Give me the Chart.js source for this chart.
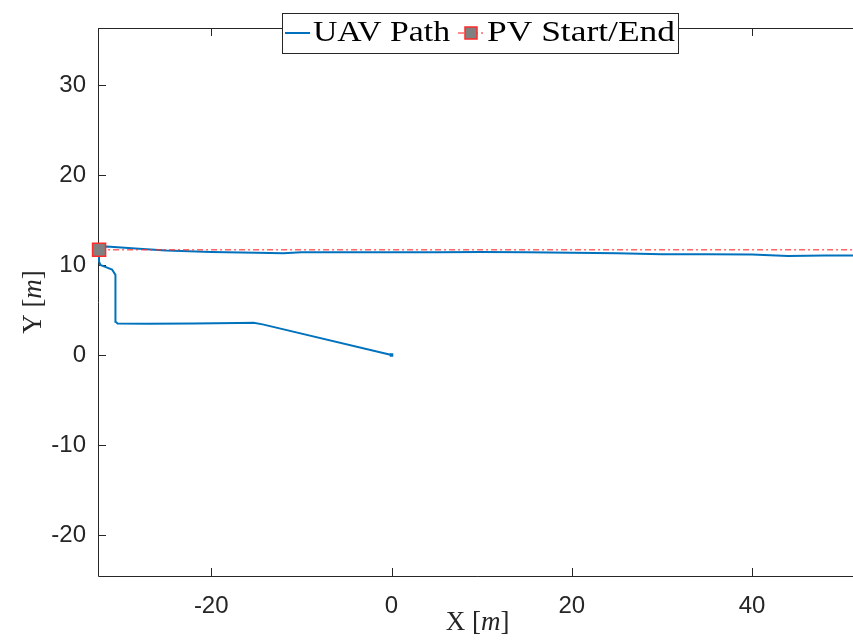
<!DOCTYPE html>
<html>
<head>
<meta charset="utf-8">
<script src="https://cdn.jsdelivr.net/npm/chart.js@4"></script>
<style>
  html, body { margin: 0; padding: 0; background: #fff; overflow: hidden; }
  #wrap { width: 853px; height: 643px; overflow: hidden; position: relative; }
  #pathChart { display: block; position: absolute; left: 0; top: 0; }
</style>
</head>
<body>
<div id="wrap"><canvas id="pathChart" width="868" height="643"></canvas></div>
<script>
// --- DATA ---
const pathX = [0, -14.3, -15.3, -17, -22, -27, -30.4, -30.6, -30.6, -30.65, -31.0, -31.9, -32.3, -32.45, -32.45,
               -31.6, -30, -28, -25, -20, -15, -12, -10, -5, 0, 5, 10, 15, 20, 25, 30, 35, 40, 44, 48, 52];
const pathY = [0, 3.4, 3.58, 3.55, 3.5, 3.48, 3.5, 3.7, 7.2, 8.9, 9.5, 9.85, 10.0, 10.4, 11.7,
               12.05, 11.95, 11.8, 11.6, 11.45, 11.35, 11.3, 11.4, 11.4, 11.4, 11.4, 11.45, 11.4, 11.35, 11.3,
               11.2, 11.2, 11.15, 11.0, 11.05, 11.05];
const pvX = [-32.44, 60];
const pvY = [11.7, 11.7];

const xTicks = [-20, 0, 20, 40];
const yTicks = [-20, -10, 0, 10, 20, 30];
const xLimits = [-32.56, 51.67];
const yLimits = [-24.56, 36.33];

const axisColor = '#262626';
const uavColor = '#0072BD';
const pvColor = 'rgba(255, 50, 50, 0.75)';

const toPoints = (xs, ys) => xs.map((x, i) => ({ x: x, y: ys[i] }));

// draws a string squeezed/stretched to a given width
function fitText(ctx, text, x, y, width) {
    const w = ctx.measureText(text).width;
    ctx.save();
    ctx.translate(x, y);
    ctx.scale(width / w, 1);
    ctx.fillText(text, 0, 0);
    ctx.restore();
}

// --- AXES BOX + INWARD TICKS ---
const axesPlugin = {
    id: 'axesBox',
    beforeDatasetsDraw(chart) {
        const { ctx, chartArea: a, scales } = chart;
        ctx.save();
        ctx.strokeStyle = axisColor;
        ctx.lineWidth = 1;
        ctx.beginPath();
        ctx.moveTo(a.left + 0.5, a.top + 0.5);
        ctx.lineTo(a.left + 0.5, a.bottom + 0.5);
        ctx.lineTo(a.right, a.bottom + 0.5);
        ctx.moveTo(a.left, a.top + 0.5);
        ctx.lineTo(a.right, a.top + 0.5);
        ctx.stroke();
        ctx.beginPath();
        xTicks.forEach(v => {
            const px = Math.round(scales.x.getPixelForValue(v)) + 0.5;
            ctx.moveTo(px, a.bottom); ctx.lineTo(px, a.bottom - 8);
            ctx.moveTo(px, a.top); ctx.lineTo(px, a.top + 8);
        });
        yTicks.forEach(v => {
            const py = Math.round(scales.y.getPixelForValue(v)) + 0.5;
            ctx.moveTo(a.left, py); ctx.lineTo(a.left + 8, py);
        });
        ctx.stroke();
        ctx.restore();
    },
    afterDraw(chart) {
        const { ctx, chartArea: a } = chart;
        ctx.save();
        // axis titles with italic unit
        const serif = '"Liberation Serif", "Times New Roman", serif';
        const drawTitle = (parts) => {
            let total = 0;
            parts.forEach(p => { ctx.font = p.font; p.w = ctx.measureText(p.t).width; total += p.w; });
            let x = -total / 2;
            parts.forEach(p => { ctx.font = p.font; ctx.fillText(p.t, x, 0); x += p.w; });
        };
        const titleParts = (letter) => [
            { t: letter + ' [', font: '27px ' + serif },
            { t: 'm', font: 'italic 27px ' + serif },
            { t: ']', font: '27px ' + serif }
        ];
        ctx.fillStyle = axisColor;
        ctx.textBaseline = 'alphabetic';
        ctx.save();
        ctx.translate((a.left + a.right) / 2, 630);
        drawTitle(titleParts('X'));
        ctx.restore();
        ctx.save();
        ctx.translate(41, (a.top + a.bottom) / 2);
        ctx.rotate(-Math.PI / 2);
        drawTitle(titleParts('Y'));
        ctx.restore();

        // legend box
        const bx = 282, by = 13, bw = 396, bh = 40;
        ctx.fillStyle = '#fff';
        ctx.fillRect(bx, by, bw, bh);
        ctx.strokeStyle = axisColor;
        ctx.lineWidth = 1;
        ctx.strokeRect(bx + 0.5, by + 0.5, bw, bh);
        const ly = 33;
        ctx.strokeStyle = uavColor;
        ctx.lineWidth = 2;
        ctx.beginPath(); ctx.moveTo(285, ly); ctx.lineTo(310, ly); ctx.stroke();
        ctx.strokeStyle = pvColor;
        ctx.lineWidth = 1.5;
        ctx.setLineDash([6, 3, 2, 3]);
        ctx.beginPath(); ctx.moveTo(458, ly); ctx.lineTo(484, ly); ctx.stroke();
        ctx.setLineDash([]);
        ctx.fillStyle = '#808080';
        ctx.fillRect(465, 27, 12, 12);
        ctx.strokeStyle = '#ff2a2a';
        ctx.lineWidth = 1.5;
        ctx.strokeRect(465, 27, 12, 12);
        ctx.fillStyle = '#000';
        ctx.font = '29px ' + serif;
        fitText(ctx, 'UAV Path', 313, 41, 137);
        fitText(ctx, 'PV Start/End', 487, 41, 188);
        ctx.restore();
    }
};

// --- CHART ---
const data = {
    datasets: [
        {
            label: 'UAV Path',
            data: toPoints(pathX, pathY),
            borderColor: uavColor,
            borderWidth: 2,
            pointRadius: pathX.map((v, i) => i === 0 ? 2.5 : 0),
            pointStyle: 'rect',
            pointBackgroundColor: uavColor,
            pointBorderWidth: 0,
            showLine: true,
            tension: 0,
            order: 1
        },
        {
            label: 'PV Start/End',
            data: toPoints(pvX, pvY),
            borderColor: pvColor,
            borderWidth: 1.5,
            borderDash: [6, 3, 2, 3],
            pointStyle: 'rect',
            pointRadius: 9.2,
            pointBackgroundColor: '#808080',
            pointBorderColor: '#ff2a2a',
            pointBorderWidth: 1.5,
            showLine: true,
            clip: { left: 12, top: 12, right: 0, bottom: 0 },
            order: 0
        }
    ]
};

const tickFont = { family: '"Liberation Sans", Arial, sans-serif', size: 24 };

const config = {
    type: 'scatter',
    data: data,
    options: {
        responsive: false,
        animation: false,
        // canvas is wider than the window: the plot box runs past the right edge like the cropped original
        layout: { padding: { top: 28, right: 4, left: 0, bottom: 0 } },
        plugins: {
            legend: { display: false },
            tooltip: { enabled: false }
        },
        scales: {
            x: {
                type: 'linear',
                min: xLimits[0],
                max: xLimits[1],
                afterBuildTicks: scale => { scale.ticks = xTicks.map(v => ({ value: v })); },
                afterFit: scale => { scale.height = 67; },
                grid: { display: false, drawTicks: false },
                border: { display: false },
                ticks: { color: axisColor, font: tickFont, padding: 16, maxRotation: 0 }
            },
            y: {
                type: 'linear',
                min: yLimits[0],
                max: yLimits[1],
                afterBuildTicks: scale => { scale.ticks = yTicks.map(v => ({ value: v })); },
                afterFit: scale => { scale.width = 98; },
                grid: { display: false, drawTicks: false },
                border: { display: false },
                ticks: { color: axisColor, font: tickFont, padding: 12 }
            }
        }
    },
    plugins: [axesPlugin]
};

window.onload = () => {
    const ctx = document.getElementById('pathChart').getContext('2d');
    new Chart(ctx, config);
};
</script>
</body>
</html>
